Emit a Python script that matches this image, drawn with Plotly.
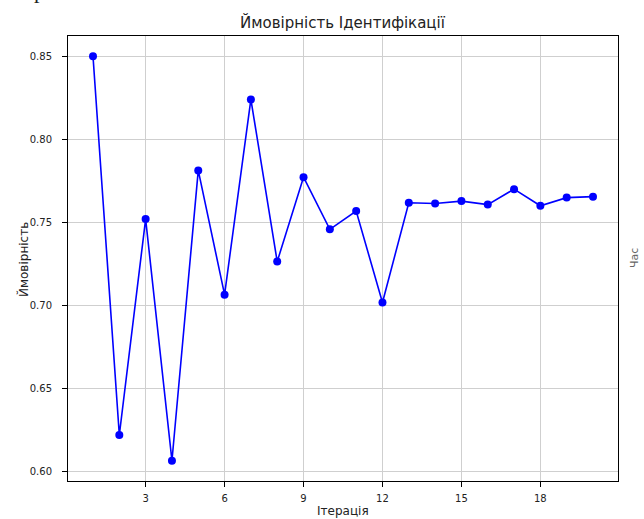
import plotly.graph_objects as go

iterations = list(range(1, 21))
probability = [0.850, 0.622, 0.752, 0.6065, 0.7813, 0.7065, 0.824, 0.7264, 0.7772, 0.7458,
               0.7568, 0.7018, 0.7618, 0.7614, 0.7628, 0.7607, 0.770, 0.760, 0.7649, 0.7655]
x_ticks = [3, 6, 9, 12, 15, 18]
y_ticks = [0.60, 0.65, 0.70, 0.75, 0.80, 0.85]

W, H = 644, 519
L, R, T, B = 68, 26, 36, 38
pw, ph = W - L - R, H - T - B

fig = go.Figure()
fig.add_trace(go.Scatter(
    x=iterations, y=probability, mode="lines+markers",
    line=dict(color="#0000ff", width=1.6),
    marker=dict(color="#0000ff", size=8),
    showlegend=False,
))

def px(xp):
    return (xp - L) / pw

def py(yp):
    return 1 - (yp - T) / ph

axis_common = dict(
    showline=True, linecolor="black", linewidth=1, mirror=True,
    ticks="outside", ticklen=5, tickcolor="black", tickwidth=1,
    showgrid=True, gridcolor="#cfcfcf", gridwidth=1, zeroline=False,
    tickfont=dict(family="DejaVu Sans", size=10, color="#222222"),
)

fig.update_layout(
    width=W, height=H,
    margin=dict(l=L, r=R, t=T, b=B),
    paper_bgcolor="white", plot_bgcolor="white",
    font=dict(family="DejaVu Sans", size=11, color="#222222"),
    xaxis=dict(range=[0.05, 20.95], tickvals=x_ticks, ticklabelstandoff=3, **axis_common),
    yaxis=dict(range=[0.5943, 0.8622], tickvals=y_ticks, tickformat=".2f",
               ticklabelstandoff=8, **axis_common),
    annotations=[
        dict(text="Ймовірність Ідентифікації", xref="paper", yref="paper",
             x=0.5, y=py(22), xanchor="center", yanchor="middle", showarrow=False,
             font=dict(family="DejaVu Sans", size=15, color="#222222")),
        dict(text="Ітерація", xref="paper", yref="paper",
             x=0.5, y=py(511), xanchor="center", yanchor="middle", showarrow=False,
             font=dict(family="DejaVu Sans", size=12, color="#222222")),
        dict(text="Ймовірність", xref="paper", yref="paper", textangle=-90,
             x=px(23), y=py(260), xanchor="center", yanchor="middle", showarrow=False,
             font=dict(family="DejaVu Sans", size=12, color="#222222")),
        dict(text="Час", xref="paper", yref="paper", textangle=-90,
             x=px(634), y=py(258), xanchor="center", yanchor="middle", showarrow=False,
             font=dict(family="DejaVu Sans", size=11, color="#666666")),
        dict(text="р", xref="paper", yref="paper",
             x=px(39), y=py(-10), xanchor="center", yanchor="middle", showarrow=False,
             font=dict(family="Liberation Serif", size=22, color="#222222")),
        dict(text="у", xref="paper", yref="paper",
             x=px(104), y=py(-12), xanchor="center", yanchor="middle", showarrow=False,
             font=dict(family="Liberation Serif", size=22, color="#222222")),
    ],
)

fig.write_html("out.html", config={"displayModeBar": False},
               post_script="document.body.style.margin='0';document.body.style.overflow='hidden';")
